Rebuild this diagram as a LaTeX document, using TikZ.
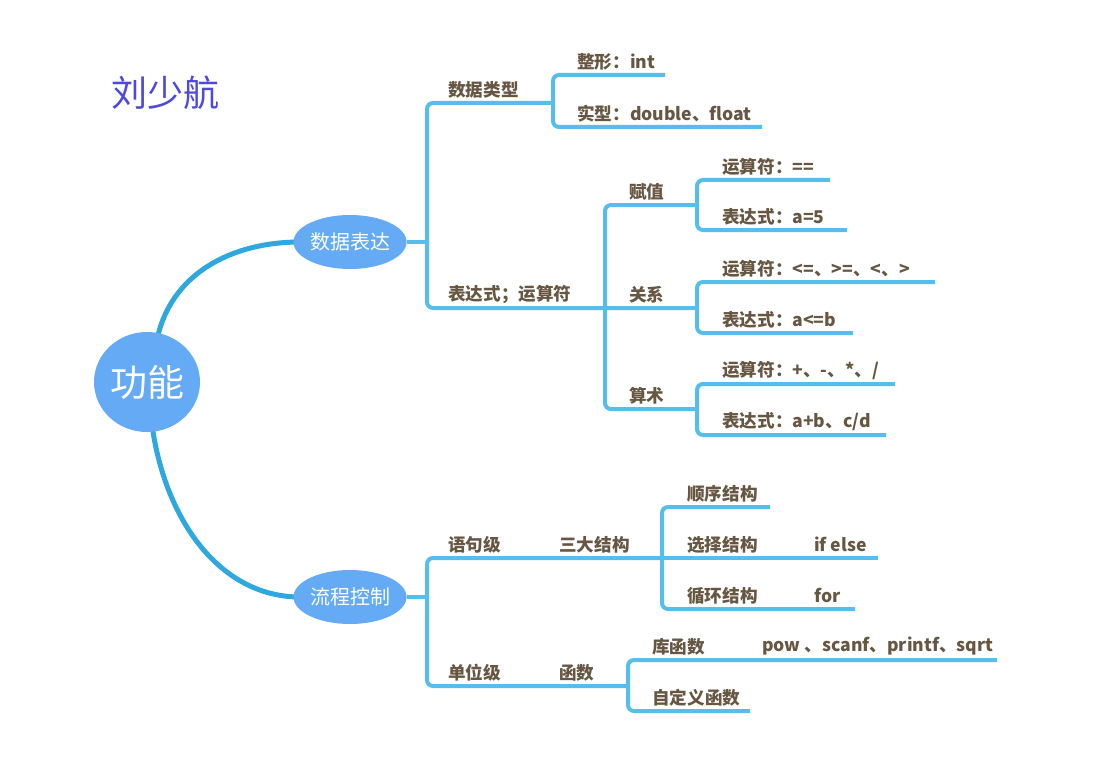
\documentclass[tikz,border=0pt]{standalone}
\usepackage{fontspec}
\setmainfont{Noto Sans CJK SC}
\usetikzlibrary{shapes.geometric}
\definecolor{txt}{RGB}{102,86,66}
\definecolor{lineb}{RGB}{86,190,236}
\definecolor{curveb}{RGB}{46,168,222}
\definecolor{ellb}{RGB}{100,170,245}
\definecolor{titlec}{RGB}{78,72,222}
\begin{document}
\begin{tikzpicture}[x=1pt,y=-1pt,
 lbl/.style={anchor=west, text=txt, font=\fontsize{17.6}{20}\selectfont\bfseries, inner sep=0pt, yshift=-1.5pt},
 br/.style={draw=lineb, line width=4pt, rounded corners=6pt},
 topic/.style={ellipse, fill=ellb, text=white, minimum width=104pt, minimum height=54pt, inner sep=0pt, font=\fontsize{20}{24}\selectfont},
 cv/.style={draw=curveb, line width=5pt}]
\useasboundingbox[fill=white] (0,0) rectangle (1094,762);

% title
\node[text=titlec, font=\fontsize{36}{40}\selectfont] (title) at (165,93) {刘少航};

% curves (drawn first, below nodes)
\coordinate (c1s) at (157,340);
\coordinate (c1e) at (300,242);
\coordinate (c2s) at (152,425);
\coordinate (c2e) at (300,597);
\draw[cv] (c1s) .. controls (170,275) and (230,242) .. (c1e);
\draw[cv] (c2s) .. controls (165,520) and (220,597) .. (c2e);

% main nodes
\node[ellipse, fill=ellb, text=white, minimum width=106pt, minimum height=100pt, inner sep=0pt, font=\fontsize{37}{40}\selectfont] (root) at (147,382) {功能};
\node[topic] (sjbd) at (350,242) {数据表达};
\node[topic] (lckz) at (350,597) {流程控制};

% ---------- upper branch ----------
\coordinate (u0) at (427,242);
\coordinate (uT) at (427,103);
\coordinate (uB) at (427,308);
\draw[br] (sjbd.east) -- (u0);
\draw[br] (553,103) -- (uT) -- (uB) -- (697,308);

% data types
\coordinate (dtT) at (553,75);
\coordinate (dtB) at (553,127);
\draw[br] (665,75) -- (dtT) -- (dtB) -- (762,127);
\node[lbl] (sjlx) at (448,88) {数据类型};
\node[lbl] (zx) at (577,60) {整形：int};
\node[lbl] (sx) at (577,112) {实型：double、float};

% expression / operators
\node[lbl] (bds) at (448,293) {表达式；运算符};
\coordinate (eT) at (605,205);
\coordinate (eB) at (605,409);
\draw[br] (697,205) -- (eT) -- (eB) -- (697,409);
\node[lbl] (fz) at (629,190) {赋值};
\node[lbl] (gx) at (629,293) {关系};
\node[lbl] (ss) at (629,394) {算术};

\draw[br] (830,180) -- (697,180) -- (697,230) -- (847,230);
\node[lbl] (fz1) at (722,165) {运算符：==};
\node[lbl] (fz2) at (722,215) {表达式：a=5};

\draw[br] (935,282) -- (697,282) -- (697,333) -- (853,333);
\node[lbl] (gx1) at (722,267) {运算符：<=、>=、<、>};
\node[lbl] (gx2) at (722,318) {表达式：a<=b};

\draw[br] (895,384) -- (697,384) -- (697,435) -- (886,435);
\node[lbl] (ss1) at (722,369) {运算符：+、-、*、/};
\node[lbl] (ss2) at (722,420) {表达式：a+b、c/d};

% ---------- lower branch ----------
\coordinate (l0) at (427,597);
\draw[br] (lckz.east) -- (l0);
\draw[br] (662,558) -- (427,558) -- (427,686) -- (628,686);
\node[lbl] (yjj) at (448,543) {语句级};
\node[lbl] (sdjg) at (559,543) {三大结构};
\node[lbl] (dwj) at (448,671) {单位级};
\node[lbl] (hs) at (559,671) {函数};

\draw[br] (770,507) -- (662,507) -- (662,609) -- (855,609);
\draw[br] (662,558) -- (878,558);
\node[lbl] (sxjg) at (687,492) {顺序结构};
\node[lbl] (xzjg) at (687,543) {选择结构};
\node[lbl] (ifelse) at (814,543) {if else};
\node[lbl] (xhjg) at (687,594) {循环结构};
\node[lbl] (for) at (814,594) {for};

\draw[br] (997,660) -- (628,660) -- (628,711) -- (750,711);
\node[lbl] (khs) at (652,645) {库函数};
\node[lbl] (pow) at (762,645) {pow 、scanf、printf、sqrt};
\node[lbl] (zdy) at (652,696) {自定义函数};
\end{tikzpicture}
\end{document}
